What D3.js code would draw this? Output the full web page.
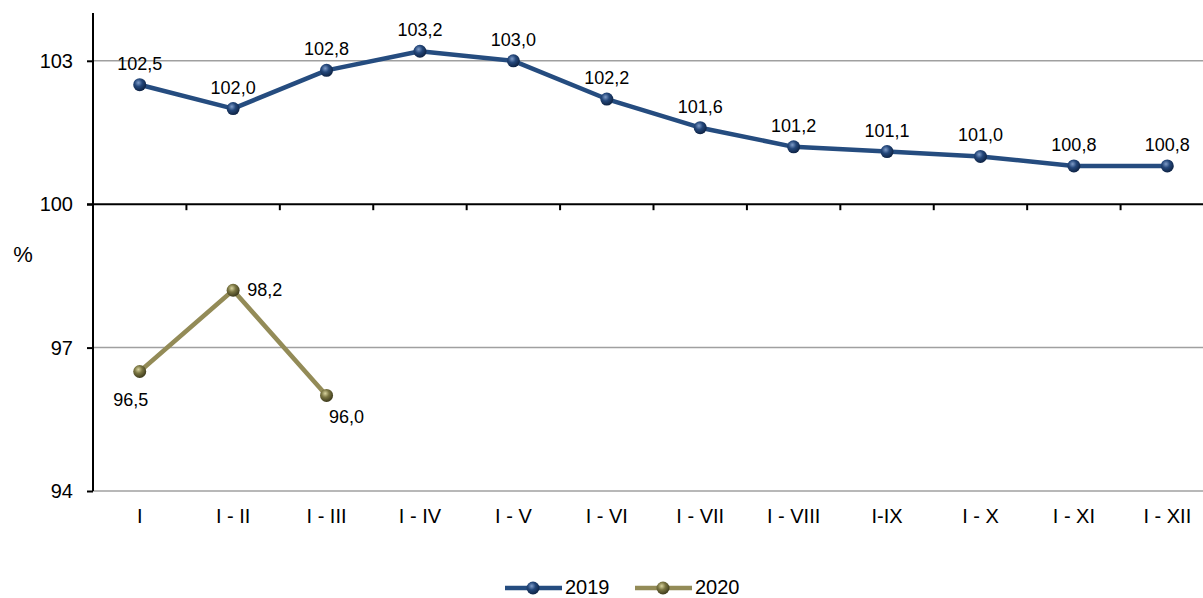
<!DOCTYPE html>
<html><head><meta charset="utf-8">
<script src="https://cdn.jsdelivr.net/npm/d3@7"></script>
<style>
html,body{margin:0;padding:0;background:#fff;}
svg{display:block;font-family:"Liberation Sans",Arial,sans-serif;}
</style></head>
<body>
<svg id="c" width="1203" height="598"></svg>
<script>
const categories = ["I","I - II","I - III","I - IV","I - V","I - VI","I - VII","I - VIII","I-IX","I - X","I - XI","I - XII"];
const values2019 = [102.5,102.0,102.8,103.2,103.0,102.2,101.6,101.2,101.1,101.0,100.8,100.8];
const values2020 = [96.5,98.2,96.0];
const yTicks = [94,97,100,103];
const seriesNames = ["2019","2020"];

(function(){
const svg = d3.select("#c");
const pLeft = 93, pRight = 1214, pTop = 13, pBottom = 491;
const x = d3.scaleBand().domain(categories).range([pLeft, pRight]);
const y = d3.scaleLinear().domain([94,104]).range([pBottom, pTop]);
const fmt = v => d3.format(".1f")(v).replace(".", ",");

const defs = svg.append("defs");
function grad(id, light, mid, dark){
  const g = defs.append("radialGradient").attr("id", id).attr("cx","40%").attr("cy","35%").attr("r","65%");
  g.append("stop").attr("offset","0%").attr("stop-color",light);
  g.append("stop").attr("offset","45%").attr("stop-color",mid);
  g.append("stop").attr("offset","100%").attr("stop-color",dark);
}
grad("gBlue","#7f9cc8","#24477a","#0e2344");
grad("gOlive","#d8d39e","#7a7542","#3e3b1c");

// gridlines
svg.append("g").selectAll("line").data([94,97,103]).join("line")
  .attr("x1", pLeft).attr("x2", 1203).attr("y1", d=>y(d)).attr("y2", d=>y(d))
  .attr("stroke", "#a0a0a0").attr("stroke-width", 1.5);

// y axis
const yAxis = svg.append("g").attr("transform", `translate(${pLeft},0)`)
  .call(d3.axisLeft(y).tickValues(yTicks).tickSize(6).tickPadding(14).tickFormat(d3.format("d")));
yAxis.select(".domain").attr("d", `M0,${pTop}V${pBottom}`).attr("stroke","#000").attr("stroke-width",2);
yAxis.selectAll(".tick line").attr("stroke","#000").attr("stroke-width",2);
yAxis.selectAll(".tick text").attr("font-size", 20).attr("fill","#000").attr("font-family","Liberation Sans, Arial, sans-serif");

// horizontal axis at 100 with ticks between categories
const xAxisG = svg.append("g").attr("transform", `translate(0,${y(100)})`);
xAxisG.append("line").attr("x1", pLeft - 6).attr("x2", 1203).attr("stroke","#000").attr("stroke-width",2);
xAxisG.selectAll("line.t").data(categories.slice(1)).join("line").attr("class","t")
  .attr("x1", d=>x(d)).attr("x2", d=>x(d)).attr("y1",0).attr("y2",6)
  .attr("stroke","#000").attr("stroke-width",2);

// category labels at bottom
const xAxis = svg.append("g").attr("transform", `translate(0,${pBottom})`)
  .call(d3.axisBottom(x).tickSize(0).tickPadding(18));
xAxis.select(".domain").remove();
xAxis.selectAll(".tick text").attr("font-size", 20).attr("fill","#000").attr("font-family","Liberation Sans, Arial, sans-serif");

// % label
svg.append("text").attr("x", 23).attr("y", 262).attr("text-anchor","middle")
  .attr("font-size", 22).text("%");

const cx = d => x(d) + x.bandwidth()/2;
const line = d3.line().x(d=>cx(d.c)).y(d=>y(d.v));

const d2019 = values2019.map((v,i)=>({c:categories[i], v}));
const d2020 = values2020.map((v,i)=>({c:categories[i], v}));

svg.append("path").datum(d2019).attr("d", line).attr("fill","none")
  .attr("stroke","#254c7f").attr("stroke-width",4.5).attr("stroke-linejoin","round");
svg.append("path").datum(d2020).attr("d", line).attr("fill","none")
  .attr("stroke","#938b57").attr("stroke-width",4.5).attr("stroke-linejoin","round");

svg.append("g").selectAll("circle").data(d2019).join("circle")
  .attr("cx", d=>cx(d.c)).attr("cy", d=>y(d.v)).attr("r", 6.5).attr("fill","url(#gBlue)");
svg.append("g").selectAll("circle").data(d2020).join("circle")
  .attr("cx", d=>cx(d.c)).attr("cy", d=>y(d.v)).attr("r", 6.5).attr("fill","url(#gOlive)");

// labels
svg.append("g").selectAll("text").data(d2019).join("text")
  .attr("x", d=>cx(d.c)).attr("y", d=>y(d.v) - 15).attr("text-anchor","middle")
  .attr("font-size", 18).text(d=>fmt(d.v));
const off2020 = [[-9, 34, "middle"], [14, 6, "start"], [20, 28, "middle"]];
svg.append("g").selectAll("text").data(d2020).join("text")
  .attr("x", (d,i)=>cx(d.c) + off2020[i][0]).attr("y", (d,i)=>y(d.v) + off2020[i][1])
  .attr("text-anchor", (d,i)=>off2020[i][2])
  .attr("font-size", 18).text(d=>fmt(d.v));

// legend
const legend = [
  {name: seriesNames[0], color:"#254c7f", g:"url(#gBlue)", x0:505},
  {name: seriesNames[1], color:"#938b57", g:"url(#gOlive)", x0:635}
];
const lg = svg.append("g");
legend.forEach(l=>{
  lg.append("line").attr("x1", l.x0).attr("x2", l.x0+57).attr("y1",588).attr("y2",588)
    .attr("stroke", l.color).attr("stroke-width",4.5);
  lg.append("circle").attr("cx", l.x0+28).attr("cy",588).attr("r",6.5).attr("fill", l.g);
  lg.append("text").attr("x", l.x0+60).attr("y", 594).attr("font-size",20).text(l.name);
});
})();
</script>
</body></html>
